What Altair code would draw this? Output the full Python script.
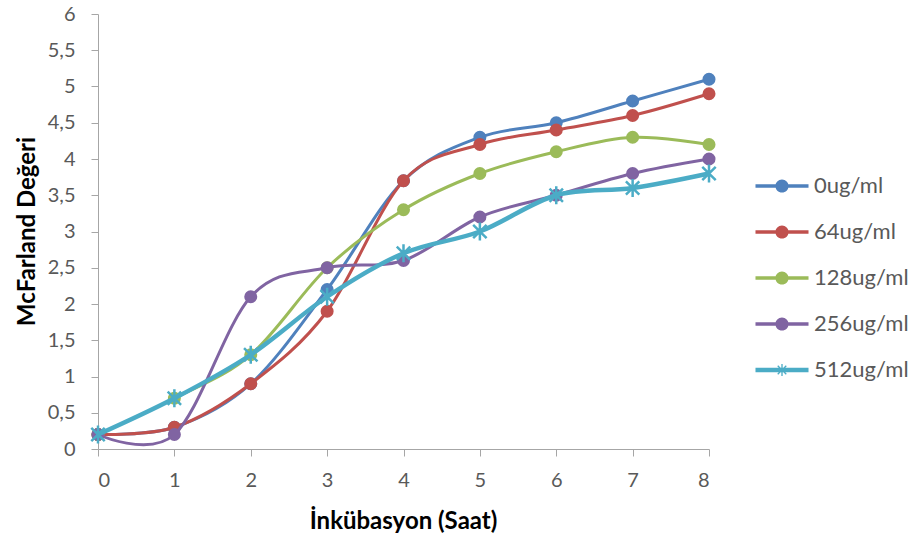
import altair as alt
import pandas as pd

hours = [0, 1, 2, 3, 4, 5, 6, 7, 8]
series_names = ["0ug/ml", "64ug/ml", "128ug/ml", "256ug/ml", "512ug/ml"]
s0 = [0.2, 0.3, 0.9, 2.2, 3.7, 4.3, 4.5, 4.8, 5.1]
s64 = [0.2, 0.3, 0.9, 1.9, 3.7, 4.2, 4.4, 4.6, 4.9]
s128 = [0.2, 0.7, 1.3, 2.5, 3.3, 3.8, 4.1, 4.3, 4.2]
s256 = [0.2, 0.2, 2.1, 2.5, 2.6, 3.2, 3.5, 3.8, 4.0]
s512 = [0.2, 0.7, 1.3, 2.1, 2.7, 3.0, 3.5, 3.6, 3.8]
y_ticks = [0, 0.5, 1, 1.5, 2, 2.5, 3, 3.5, 4, 4.5, 5, 5.5, 6]
x_ticks = [0, 1, 2, 3, 4, 5, 6, 7, 8]

colors = ["#4F81BD", "#C0504D", "#9BBB59", "#8064A2", "#4BACC6"]
values = [s0, s64, s128, s256, s512]

rows = []
for name, vals in zip(series_names, values):
    for h, v in zip(hours, vals):
        rows.append({"hour": h, "value": v, "series": name})
df = pd.DataFrame(rows)

FONT = "Lato"
LABEL_COLOR = "#595959"
AXIS_COLOR = "#A6A6A6"

x_enc = alt.X(
    "hour:Q",
    scale=alt.Scale(domain=[0, 8], nice=False, zero=False),
    axis=alt.Axis(
        title="İnkübasyon (Saat)", values=x_ticks, grid=False,
        domainColor=AXIS_COLOR, tickColor=AXIS_COLOR, tickSize=7,
        labelFont=FONT, labelFontSize=20, labelColor=LABEL_COLOR,
        labelBaseline="middle", labelPadding=24,
        titleFont=FONT, titleFontSize=24, titleFontWeight="bold", titleColor="#000000",
        titleX=305, titleY=72, titleBaseline="middle",
    ),
)
y_enc = alt.Y(
    "value:Q",
    scale=alt.Scale(domain=[0, 6], nice=False),
    axis=alt.Axis(
        title="McFarland Değeri", values=y_ticks, grid=False,
        domainColor=AXIS_COLOR, tickColor=AXIS_COLOR, tickSize=7,
        labelFont=FONT, labelFontSize=20, labelColor=LABEL_COLOR, labelPadding=16,
        labelExpr="replace(format(datum.value, '~r'), '.', ',')",
        titleFont=FONT, titleFontSize=24, titleFontWeight="bold", titleColor="#000000",
        titleX=-71, titleY=217, titleBaseline="middle",
    ),
)

base = alt.Chart(df)
layers = []
star_path = "M0,-1L0,1M-0.75,-0.75L0.75,0.75M-0.75,0.75L0.75,-0.75"
for name, col in zip(series_names, colors):
    sub = base.transform_filter(alt.datum.series == name)
    is_star = name == "512ug/ml"
    layers.append(
        sub.mark_line(color=col, strokeWidth=4.5 if is_star else 3,
                      interpolate="cardinal", tension=0).encode(x=x_enc, y=y_enc)
    )
    if is_star:
        layers.append(
            sub.mark_point(shape=star_path, filled=False, color=col, strokeWidth=2.5,
                           size=320, opacity=1).encode(x=x_enc, y=y_enc)
        )
    else:
        layers.append(
            sub.mark_point(shape="circle", filled=True, color=col, size=170,
                           opacity=1).encode(x=x_enc, y=y_enc)
        )

# legend symbols: line segment + marker, all as filled paths
line_rect = "M-2.41,-0.16L2.41,-0.16L2.41,0.16L-2.41,0.16Z"
thick_rect = "M-2.41,-0.2L2.41,-0.2L2.41,0.2L-2.41,0.2Z"
circle = "M-0.6,0A0.6,0.6 0 0,1 0.6,0A0.6,0.6 0 0,1 -0.6,0Z"
asterisk = (
    "M-0.06,-0.55L0.06,-0.55L0.06,0.55L-0.06,0.55Z"
    "M0.346,0.431L-0.431,-0.346L-0.346,-0.431L0.431,0.346Z"
    "M0.431,-0.346L-0.346,0.431L-0.431,0.346L0.346,-0.431Z"
)
legend_shapes = [line_rect + circle] * 4 + [thick_rect + asterisk]

legend_props = dict(
    title=None, orient="none", legendX=673, legendY=161, padding=0,
    symbolSize=484, symbolStrokeWidth=0, symbolOpacity=1,
    labelFont=FONT, labelFontSize=22, labelColor=LABEL_COLOR,
    labelOffset=21, rowPadding=24, labelLimit=200,
)
legend_layer = (
    base.transform_filter("false")
    .mark_point(filled=True, opacity=1)
    .encode(
        x=x_enc, y=y_enc,
        color=alt.Color("series:N", scale=alt.Scale(domain=series_names, range=colors),
                        legend=alt.Legend(**legend_props)),
        shape=alt.Shape("series:N", scale=alt.Scale(domain=series_names, range=legend_shapes),
                        legend=alt.Legend(**legend_props)),
    )
)
layers.append(legend_layer)

chart = (
    alt.layer(*layers)
    .properties(
        width=611, height=435,
        autosize=alt.AutoSizeParams(type="none"),
        padding={"left": 98, "top": 14, "right": 207, "bottom": 91},
        background="#FFFFFF",
    )
    .configure_view(stroke=None)
)

chart.save("out.html", embed_options={"renderer": "svg", "actions": False})
